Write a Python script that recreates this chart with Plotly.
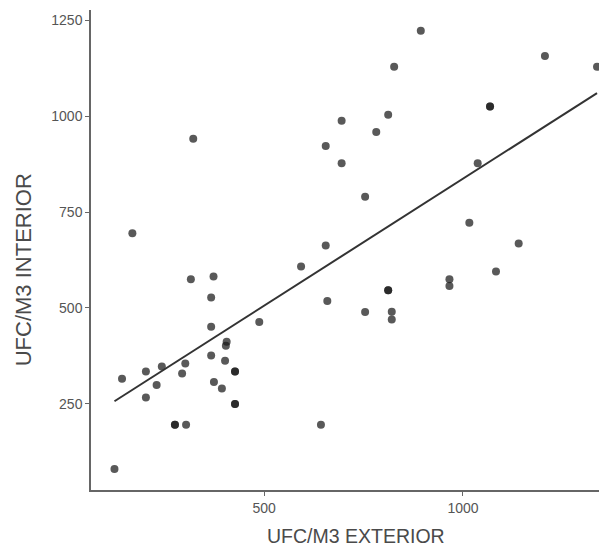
import numpy as np
import plotly.graph_objects as go

# UFC/M3 exterior (x) and interior (y) values
exterior = [322, 169, 655, 695, 695, 655, 894, 827, 1206, 1337, 1068, 1068, 812, 782,
            754, 1037, 1016, 1140, 593, 659, 316, 373, 367, 488, 367, 406, 404, 367,
            402, 427, 427, 302, 294, 243, 203, 143, 230, 203, 374, 394, 427, 427,
            276, 276, 304, 643, 124, 1083, 966, 966, 812, 812, 754, 821, 821]
interior = [941, 695, 922, 988, 877, 663, 1223, 1129, 1157, 1129, 1025, 1025, 1004, 959,
            790, 877, 722, 668, 608, 518, 575, 582, 527, 463, 451, 412, 401, 376,
            362, 334, 334, 355, 329, 347, 334, 315, 299, 266, 307, 290, 249, 249,
            195, 195, 195, 195, 80, 595, 575, 557, 546, 546, 489, 490, 470]

x_ticks = [500, 1000]
y_ticks = [250, 500, 750, 1000, 1250]
x_title = "UFC/M3 EXTERIOR"
y_title = "UFC/M3 INTERIOR"

x = np.array(exterior, dtype=float)
y = np.array(interior, dtype=float)
slope, intercept = np.polyfit(x, y, 1)
fx = np.array([x.min(), x.max()])
fy = slope * fx + intercept

fig = go.Figure()
fig.add_trace(go.Scatter(
    x=exterior, y=interior, mode="markers",
    marker=dict(color="rgba(25,25,25,0.72)", size=8, line=dict(width=0)),
    showlegend=False, hoverinfo="skip"))
fig.add_trace(go.Scatter(
    x=fx, y=fy, mode="lines", line=dict(color="#333333", width=2),
    showlegend=False, hoverinfo="skip"))

axis_common = dict(
    showgrid=False, zeroline=False, showline=True, linecolor="#666666", linewidth=1.5,
    ticks="outside", ticklen=4, tickwidth=1.2, tickcolor="#666666", automargin=False,
    tickfont=dict(family="Liberation Sans, Arial", size=14, color="#555555"),
)
fig.update_xaxes(range=[65, 1357], tickvals=x_ticks, ticktext=[str(v) for v in x_ticks],
                 **axis_common)
fig.update_yaxes(range=[25, 1277], tickvals=y_ticks, ticktext=[str(v) for v in y_ticks],
                 **axis_common)

title_font = dict(family="Liberation Sans, Arial", color="#4a4a4a")
fig.add_annotation(text=x_title, xref="paper", yref="paper", x=0.5156, y=-0.0948,
                   xanchor="center", yanchor="middle", showarrow=False,
                   font=dict(size=19.5, **title_font))
fig.add_annotation(text=y_title, xref="paper", yref="paper", x=-0.132, y=0.458,
                   xanchor="center", yanchor="middle", showarrow=False, textangle=-90,
                   font=dict(size=22, **title_font))

fig.update_layout(
    width=607, height=546, margin=dict(l=83, r=10, t=2, b=64),
    plot_bgcolor="white", paper_bgcolor="white",
)
fig.write_html("out.html")
